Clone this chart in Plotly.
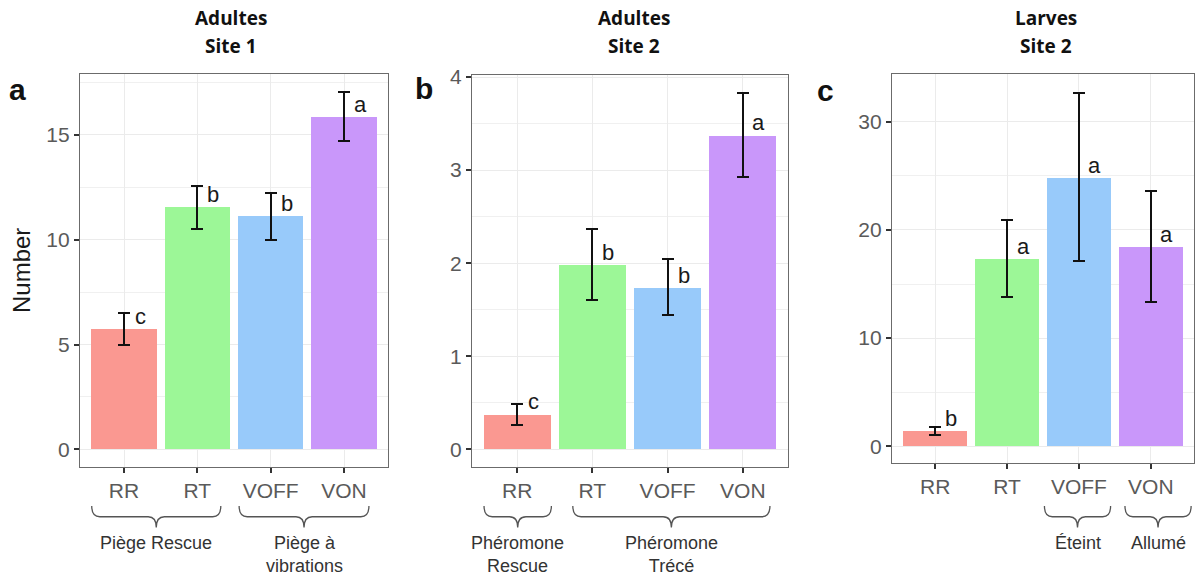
import plotly.graph_objects as go

# ---------------- data ----------------
categories = ["RR", "RT", "VOFF", "VON"]

mean_a = [5.72, 11.55, 11.12, 15.85]
upper_a = [6.52, 12.55, 12.25, 17.03]
lower_a = [4.97, 10.52, 9.98, 14.73]
letters_a = ["c", "b", "b", "a"]

mean_b = [0.37, 1.98, 1.73, 3.37]
upper_b = [0.49, 2.37, 2.04, 3.83]
lower_b = [0.26, 1.60, 1.44, 2.93]
letters_b = ["c", "b", "b", "a"]

mean_c = [1.38, 17.3, 24.8, 18.4]
upper_c = [1.75, 20.9, 32.7, 23.6]
lower_c = [1.02, 13.8, 17.1, 13.3]
letters_c = ["b", "a", "a", "a"]

titles = [("Adultes", "Site 1"), ("Adultes", "Site 2"), ("Larves", "Site 2")]
panel_tags = ["a", "b", "c"]
y_label = "Number"

groups_a = [("Piège Rescue", "RR", "RT"), ("Piège à<br>vibrations", "VOFF", "VON")]
groups_b = [("Phéromone<br>Rescue", "RR", "RR"), ("Phéromone<br>Trécé", "RT", "VON")]
groups_c = [("Éteint", "VOFF", "VOFF"), ("Allumé", "VON", "VON")]

# ---------------- style ----------------
W, H = 1195, 580
# vertical calibration of the captured page (image y -> page y)
KY, OFFY = 1.0173, 10.0


def vy(r):
    return r * KY - OFFY


colors = ["#FA9891", "#9CF797", "#98CAFA", "#C997FA"]
FONT = "Arial, Liberation Sans, sans-serif"
TICK_GREY = "#5a5a5a"

panels = [
    dict(mean=mean_a, up=upper_a, lo=lower_a, let=letters_a, groups=groups_a,
         xpx=(80, 388), ypx=(74, 466.5), yr=[-0.82, 17.9], dtick=5,
         pads=[(0.44, 0.32), (0.43, 0.34)], title_x=231, tag_xy=(17, 89)),
    dict(mean=mean_b, up=upper_b, lo=lower_b, let=letters_b, groups=groups_b,
         xpx=(472, 788), ypx=(75, 467), yr=[-0.19, 4.02], dtick=1,
         pads=[(0.44, 0.455), (0.26, 0.36)], title_x=634, tag_xy=(424, 88)),
    dict(mean=mean_c, up=upper_c, lo=lower_c, let=letters_c, groups=groups_c,
         xpx=(892, 1194), ypx=(74, 463), yr=[-1.55, 34.4], dtick=10,
         pads=[(0.48, 0.44), (0.36, 0.56)], title_x=1046, tag_xy=(825, 90)),
]

xs = list(range(len(categories)))
fig = go.Figure()
shapes = []
annotations = []


def brace_path(xl, xr, r, h):
    xm = (xl + xr) / 2
    y1 = -h / 2
    y2 = -h
    return (f"M{xl},0 Q{xl},{y1} {xl + r},{y1} L{xm - r},{y1} "
            f"Q{xm},{y1} {xm},{y2} Q{xm},{y1} {xm + r},{y1} "
            f"L{xr - r},{y1} Q{xr},{y1} {xr},0")


for k, p in enumerate(panels):
    sfx = "" if k == 0 else str(k + 1)
    xa, ya = "x" + sfx, "y" + sfx
    fig.add_trace(go.Bar(
        x=xs, y=p["mean"], xaxis=xa, yaxis=ya, width=0.89,
        marker=dict(color=colors, line=dict(width=0)),
        error_y=dict(type="data", symmetric=False,
                     array=[u - m for u, m in zip(p["up"], p["mean"])],
                     arrayminus=[m - l for m, l in zip(p["mean"], p["lo"])],
                     color="#111111", thickness=2, width=6),
        showlegend=False, hoverinfo="skip"))

    x0, x1 = p["xpx"]
    ytop, ybot = p["ypx"]
    common = dict(showline=True, mirror=True, linecolor="#6b6b6b", linewidth=1.2,
                  ticks="outside", ticklen=5, tickwidth=1.5, tickcolor="#333333",
                  gridcolor="#ebebeb", gridwidth=1.2, zeroline=False,
                  tickfont=dict(family=FONT, size=21, color=TICK_GREY))
    fig.layout["xaxis" + sfx] = dict(
        domain=[x0 / W, x1 / W], range=[-0.6, 3.6], anchor=ya,
        tickmode="array", tickvals=xs, ticktext=categories, **common)
    yax = dict(domain=[1 - vy(ybot) / H, 1 - vy(ytop) / H], range=p["yr"], anchor=xa,
               dtick=p["dtick"], tick0=0,
               minor=dict(dtick=p["dtick"] / 2, showgrid=True,
                          gridcolor="#f0f0f0", gridwidth=0.8, ticks=""),
               **common)
    if k == 0:
        yax["title"] = dict(text=y_label, font=dict(family=FONT, size=24, color="#1a1a1a"),
                            standoff=8)
    fig.layout["yaxis" + sfx] = yax

    # significance letters
    for i, (m, t) in enumerate(zip(p["mean"], p["let"])):
        annotations.append(dict(x=xs[i], y=m, xref=xa, yref=ya, text=t, showarrow=False,
                                xshift=16, yshift=13, xanchor="center", yanchor="middle",
                                font=dict(family=FONT, size=22, color="#1a1a1a")))

    # titles
    for line, ypos in zip(titles[k], (18, 46)):
        annotations.append(dict(x=p["title_x"] / W, y=1 - vy(ypos) / H, xref="paper",
                                yref="paper", text="<b>" + line + "</b>", showarrow=False,
                                xanchor="center", yanchor="middle",
                                font=dict(family="Open Sans, sans-serif", size=19,
                                          color="#111111")))
    # panel tag
    annotations.append(dict(x=p["tag_xy"][0] / W, y=1 - vy(p["tag_xy"][1]) / H, xref="paper",
                            yref="paper", text="<b>" + panel_tags[k] + "</b>", showarrow=False,
                            xanchor="center", yanchor="middle",
                            font=dict(family=FONT, size=30, color="#111111")))

    # braces + group labels
    for (label, c_first, c_last), (pl, pr) in zip(p["groups"], p["pads"]):
        xl = categories.index(c_first) - pl
        xr = categories.index(c_last) + pr
        shapes.append(dict(type="path", xref=xa, yref="paper", ysizemode="pixel",
                           yanchor=1 - vy(506) / H, path=brace_path(xl, xr, 0.11, 21 * KY),
                           line=dict(color="#555555", width=1.3)))
        annotations.append(dict(x=(xl + xr) / 2, y=1 - vy(531) / H, xref=xa, yref="paper",
                                text=label, showarrow=False, xanchor="center", yanchor="top",
                                font=dict(family=FONT, size=18, color="#333333")))

fig.update_layout(width=W, height=H, margin=dict(l=0, r=0, t=0, b=0),
                  plot_bgcolor="white", paper_bgcolor="white",
                  shapes=shapes, annotations=annotations, bargap=0)

page_fix = ("document.body.style.margin='0';document.body.style.overflow='hidden';"
            "var gd=document.getElementById('{plot_id}');"
            "gd.style.position='absolute';gd.style.left='0px';gd.style.top='0px';")
fig.write_html("out.html", post_script=page_fix, config={"displayModeBar": False})
